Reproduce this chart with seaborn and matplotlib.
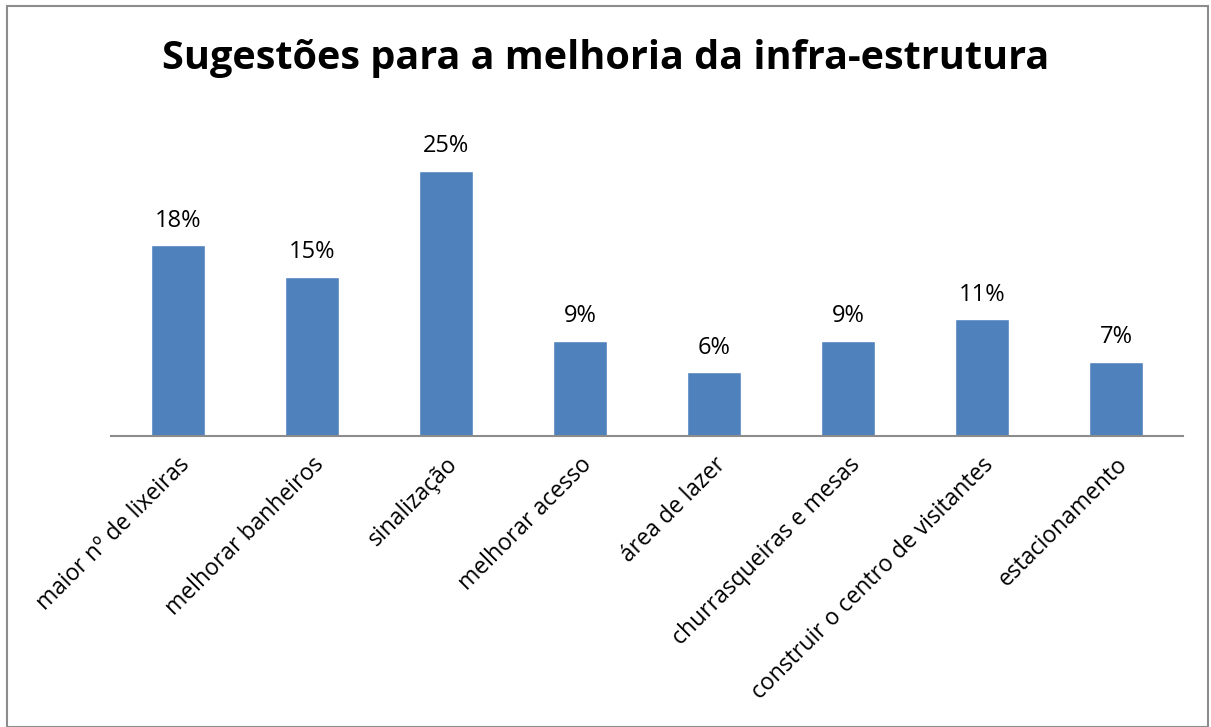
import matplotlib
matplotlib.use("Agg")
import matplotlib.pyplot as plt
import seaborn as sns
import pandas as pd
from matplotlib.patches import Rectangle

categories = [
    "maior nº de lixeiras",
    "melhorar banheiros",
    "sinalização",
    "melhorar acesso",
    "área de lazer",
    "churrasqueiras e mesas",
    "construir o centro de visitantes",
    "estacionamento",
]
values = [18, 15, 25, 9, 6, 9, 11, 7]
title = "Sugestões para a melhoria da infra-estrutura"

sns.set_theme(style="white")
plt.rcParams["font.family"] = ["Open Sans", "DejaVu Sans"]

df = pd.DataFrame({"categoria": categories, "valor": values})

fig = plt.figure(figsize=(12.11, 7.27), dpi=100)
ax = fig.add_axes([111 / 1211, (727 - 436) / 727, (1183 - 111) / 1211, (436 - 118) / 727])

sns.barplot(data=df, x="categoria", y="valor", color="#4F81BD", width=0.4,
            saturation=1, ax=ax)

ax.set_xlim(-0.5, len(categories) - 0.5)
ax.set_ylim(0, 30)
ax.set_xlabel("")
ax.set_ylabel("")
ax.set_yticks([])
for side in ("top", "right", "left"):
    ax.spines[side].set_visible(False)
ax.spines["bottom"].set_color("#8C8C8C")
ax.spines["bottom"].set_linewidth(1.5)
ax.tick_params(axis="x", length=0, pad=12)
ax.set_xticks(range(len(categories)))
ax.set_xticklabels(categories, rotation=45, ha="right", rotation_mode="anchor",
                   fontsize=16.5, color="black")

for container in ax.containers:
    ax.bar_label(container, labels=[f"{v}%" for v in values], padding=9,
                 fontsize=17, color="black")

fig.text(0.5, (727 - 58) / 727, title, ha="center", va="center",
         fontsize=28.5, fontweight="bold", color="black")

fig.patches.append(Rectangle((7 / 1211, 0), (1208 - 7) / 1211, (727 - 6) / 727,
                             transform=fig.transFigure, fill=False,
                             edgecolor="#8C8C8C", linewidth=1.5))

fig.savefig("out.png", dpi=100, facecolor="white")
